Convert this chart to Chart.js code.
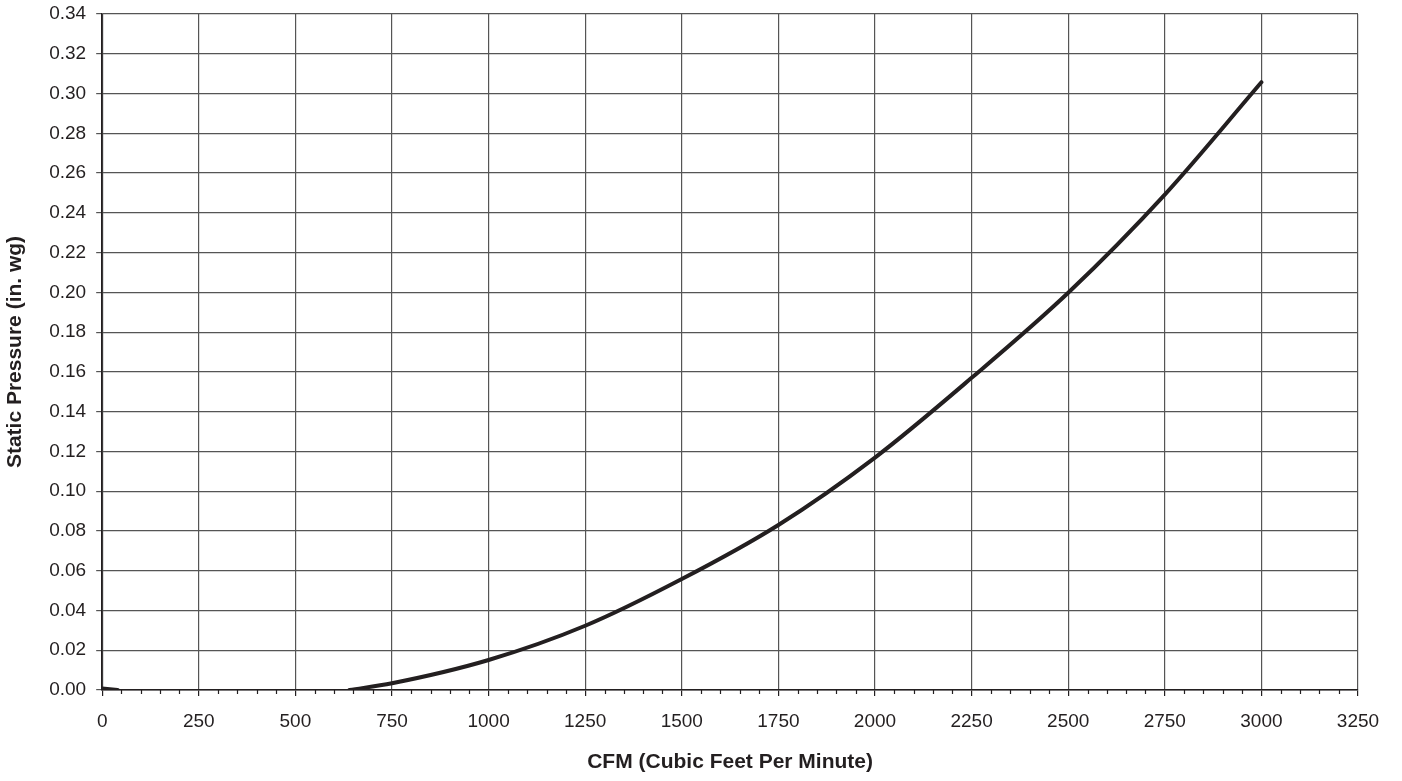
<!DOCTYPE html>
<html>
<head>
<meta charset="utf-8">
<title>Static Pressure vs CFM</title>
<script src="https://cdn.jsdelivr.net/npm/chart.js@4/dist/chart.umd.min.js"></script>
<style>
  html, body { margin: 0; padding: 0; background: #fff; }
  #wrap { width: 1402px; height: 781px; position: relative; }
</style>
</head>
<body>
<div id="wrap"><canvas id="myChart"></canvas></div>
<script>
// values (null = where the curve hides under the axis)
const cfm = [0, 40, 300, 640, 750, 1000, 1250, 1500, 1750, 2000, 2250, 2500, 2750, 3000];
const pressure = [0.0008, 0, null, 0, 0.0034, 0.0151, 0.0323, 0.0558, 0.083, 0.1169, 0.157, 0.1998, 0.2492, 0.3057];

const xMax = 3250;
const xMajor = 250;
const xMinor = 50;
const yMax = 0.34;

const ink = "#231f20";
const gridGray = "#555555";
const fontFamily = "'Liberation Sans', Arial, sans-serif";

// short minor tick marks under the x axis
const minorTicks = {
  id: "minorTicks",
  afterDraw: function (chart) {
    const xs = chart.scales.x;
    const c = chart.ctx;
    const y0 = chart.chartArea.bottom;
    c.save();
    c.strokeStyle = ink;
    c.lineWidth = 1.2;
    c.beginPath();
    for (let v = xMinor; v < xMax; v += xMinor) {
      if (v % xMajor === 0) continue;
      const px = Math.round(xs.getPixelForValue(v)) + 0.5;
      c.moveTo(px, y0);
      c.lineTo(px, y0 + 4);
    }
    c.stroke();
    c.restore();
  },
};

document.addEventListener("DOMContentLoaded", function () {
  const ctx = document.getElementById("myChart").getContext("2d");

  const points = cfm.map(function (x, i) {
    return { x: x, y: pressure[i] };
  });

  const config = {
    type: "line",
    data: {
      datasets: [
        {
          data: points,
          borderColor: ink,
          borderWidth: 4,
          borderCapStyle: "round",
          pointRadius: 0,
          cubicInterpolationMode: "monotone",
          spanGaps: false,
          fill: false,
        },
      ],
    },
    options: {
      responsive: true,
      maintainAspectRatio: false,
      animation: false,
      layout: {
        padding: { top: 14, right: 44, left: 3, bottom: 6 },
      },
      plugins: {
        legend: { display: false },
        tooltip: { enabled: false },
      },
      scales: {
        x: {
          type: "linear",
          min: 0,
          max: xMax,
          border: { color: ink, width: 1.5 },
          grid: {
            color: gridGray,
            tickColor: ink,
            tickLength: 6,
            lineWidth: 1.2,
          },
          ticks: {
            stepSize: xMajor,
            autoSkip: false,
            maxRotation: 0,
            color: ink,
            padding: 14,
            font: { family: fontFamily, size: 19 },
            callback: function (v) {
              return String(v);
            },
          },
          title: {
            display: true,
            text: "CFM (Cubic Feet Per Minute)",
            color: ink,
            padding: { top: 3, bottom: 0 },
            font: { family: fontFamily, size: 21, weight: "bold" },
          },
        },
        y: {
          min: 0,
          max: yMax,
          border: { color: ink, width: 1.5 },
          grid: {
            color: gridGray,
            tickColor: gridGray,
            tickLength: 6,
            lineWidth: 1.2,
          },
          ticks: {
            stepSize: 0.02,
            autoSkip: false,
            color: ink,
            padding: 10,
            font: { family: fontFamily, size: 19, lineHeight: 0.4 },
            callback: function (v) {
              return Number(v).toFixed(2);
            },
          },
          title: {
            display: true,
            text: "Static Pressure (in. wg)",
            color: ink,
            padding: { top: 0, bottom: 11 },
            font: { family: fontFamily, size: 21, weight: "bold" },
          },
        },
      },
    },
    plugins: [minorTicks],
  };

  new Chart(ctx, config);
});
</script>
</body>
</html>
